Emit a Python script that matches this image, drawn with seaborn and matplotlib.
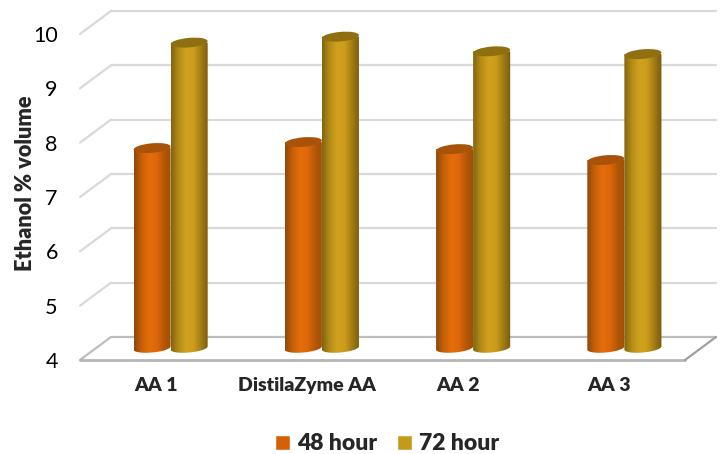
import numpy as np
import pandas as pd
import matplotlib
matplotlib.use('Agg')
import matplotlib.pyplot as plt
import seaborn as sns
from matplotlib.colors import LinearSegmentedColormap
from matplotlib.patches import Ellipse
from matplotlib.path import Path
from matplotlib.transforms import Affine2D, IdentityTransform

categories = ['AA 1', 'DistilaZyme AA', 'AA 2', 'AA 3']
hour_48 = [7.68, 7.79, 7.66, 7.46]
hour_72 = [9.62, 9.73, 9.46, 9.41]
y_ticks = [4, 5, 6, 7, 8, 9, 10]
series_names = ['48 hour', '72 hour']

sns.set_style('white')
plt.rcParams['font.family'] = ['Lato', 'DejaVu Sans']

df = pd.DataFrame({
    'category': categories * 2,
    'value': hour_48 + hour_72,
    'series': [series_names[0]] * 4 + [series_names[1]] * 4,
})

W, H = 720, 454
fig = plt.figure(figsize=(W / 100, H / 100), dpi=100)
# axes = front plane of the fake 3d box
ax = fig.add_axes([80 / W, 1 - 360 / H, 605 / W, 326 / H])

flat_colors = ['#d56007', '#c49a1b']
sns.barplot(data=df, x='category', y='value', hue='series', palette=flat_colors,
            width=0.49, gap=0, saturation=1, ax=ax, legend=True, zorder=3)
ax.set_xlim(-0.5, 3.5)
ax.set_ylim(4, 10)
ax.set_yticks(y_ticks)
ax.autoscale(False)
sns.despine(ax=ax, left=True, bottom=True, top=True, right=True)

# back wall and floor
back = ax.transData + Affine2D().translate(31, 23)
for t in y_ticks:
    color = '#bdbdbd' if t == 4 else '#d9d9d9'
    ax.plot([-0.5, 3.5], [t, t], transform=back, color=color, lw=1.6, zorder=1, clip_on=False)
    x0, y0 = ax.transData.transform((-0.5, t))
    ax.plot([x0, x0 + 31], [y0, y0 + 23], transform=IdentityTransform(), color=color,
            lw=1.6, zorder=1, clip_on=False)
ax.plot([-0.5, 3.5], [4, 4], color='#b5b5b5', lw=2, zorder=1, clip_on=False)
x1, y1 = ax.transData.transform((3.5, 4))
ax.plot([x1, x1 + 31], [y1, y1 + 23], transform=IdentityTransform(), color='#a0a0a0',
        lw=1.6, zorder=1, clip_on=False)

# cylinders, built on the bars seaborn placed
cmaps = [
    LinearSegmentedColormap.from_list('o', ['#8c4a0c', '#c75f08', '#e56d0a', '#dd680a', '#b65606', '#9a4f08']),
    LinearSegmentedColormap.from_list('g', ['#82650f', '#b48c17', '#d0a11e', '#cc9c1c', '#a17d14', '#775b0e']),
]
top_colors = ['#a9530a', '#8f6f10']
tilt = np.radians(5)
mid = Affine2D().translate(15, 12)
bars = [p for c in ax.containers for p in c]
for i, bar in enumerate(bars):
    s = i // 4
    bar.set_visible(False)
    (xa, ya), (xb, yb) = (ax.transData + mid).transform(
        [(bar.get_x(), 4), (bar.get_x() + bar.get_width(), bar.get_height())])
    cx, w = (xa + xb) / 2, xb - xa
    t = np.linspace(np.pi, 2 * np.pi, 40)
    ex = cx + w / 2 * np.cos(t)
    ey = ya + 4.5 * np.sin(t) + (ex - cx) * np.tan(tilt)
    verts = np.vstack([[[xa, yb]], np.column_stack([ex, ey]), [[xb, yb]], [[xa, yb]]])
    img = ax.imshow(np.linspace(0, 1, 120)[None, :], cmap=cmaps[s], aspect='auto',
                    extent=(xa, xb, ya - 8, yb), transform=IdentityTransform(),
                    zorder=3 + s * 0.1 + i * 0.001, clip_on=True)
    img.set_clip_path(Path(verts), IdentityTransform())
    ax.add_patch(Ellipse((cx, yb), w, 9.5, angle=5, transform=IdentityTransform(),
                         facecolor=top_colors[s], edgecolor='none',
                         zorder=3.2 + s * 0.1 + i * 0.001, clip_on=False))
ax.set_xlim(-0.5, 3.5)
ax.set_ylim(4, 10)

ax.tick_params(axis='y', length=0, pad=16, labelsize=15.5, labelcolor='black')
ax.tick_params(axis='x', length=0, pad=12, labelsize=14)
for lab in ax.get_xticklabels():
    lab.set_fontweight('heavy')
ax.set_xlabel('')
ax.set_ylabel('')
fig.text(26 / W, 1 - 183 / H, 'Ethanol % volume', rotation=90, ha='center', va='center',
         fontsize=15.7, fontweight='heavy')

handles, labels = ax.get_legend_handles_labels()
ax.get_legend().remove()
for h in handles:
    h.set_visible(True)
fig.legend(handles, labels, loc='center', bbox_to_anchor=(387 / W, 1 - 444 / H), ncol=2,
           frameon=False, prop={'weight': 'heavy', 'size': 16.5}, handlelength=0.64,
           handleheight=0.64, handletextpad=0.3, columnspacing=0.9, borderpad=0)

fig.savefig('out.png', dpi=100)
